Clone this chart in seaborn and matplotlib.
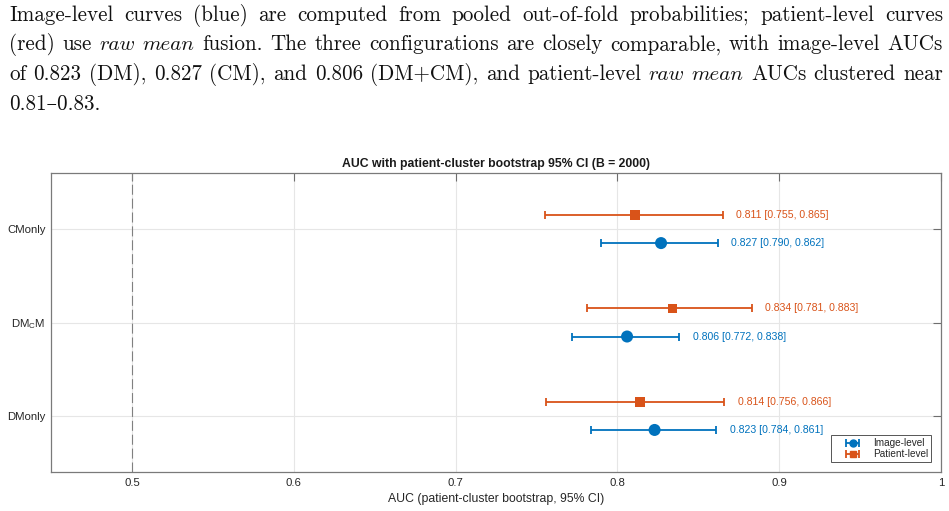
import numpy as np
import pandas as pd
import seaborn as sns
import matplotlib
matplotlib.use("Agg")
import matplotlib.pyplot as plt
from matplotlib.lines import Line2D
from matplotlib.legend_handler import HandlerErrorbar
from matplotlib.container import ErrorbarContainer

# ---------------- data ----------------
configs = ["DMonly", "DM$_{C}$M", "CMonly"]          # bottom -> top
img_auc = [0.823, 0.806, 0.827]
img_lo = [0.784, 0.772, 0.790]
img_hi = [0.861, 0.838, 0.862]
pat_auc = [0.814, 0.834, 0.811]
pat_lo = [0.756, 0.781, 0.755]
pat_hi = [0.866, 0.883, 0.865]
levels = ["Image-level", "Patient-level"]
xticks = [0.5, 0.6, 0.7, 0.8, 0.9, 1.0]
xtick_labels = ["0.5", "0.6", "0.7", "0.8", "0.9", "1"]

para_lines = [
    [("Image-level curves (blue) are computed from pooled out-of-fold probabilities; patient-level curves", False)],
    [("(red) use", False), ("raw mean", True),
     ("fusion. The three configurations are closely comparable, with image-level AUCs", False)],
    [("of 0.823 (DM), 0.827 (CM), and 0.806 (DM+CM), and patient-level", False), ("raw mean", True),
     ("AUCs clustered near", False)],
    [("0.81\u20130.83.", False)],
]

# ---------------- style ----------------
sns.set_theme(style="white")
plt.rcParams["font.family"] = ["Liberation Sans", "DejaVu Sans"]
plt.rcParams["mathtext.default"] = "regular"

BLUE = "#0072BD"
RED = "#D95319"
colors = {"Image-level": BLUE, "Patient-level": RED}
W, H = 949, 511

fig = plt.figure(figsize=(W / 100, H / 100), dpi=100)
ax = fig.add_axes([51 / W, 1 - 472 / H, 890 / W, 299 / H])

# build table
rows = []
for i, c in enumerate(configs):
    rows.append(dict(config=c, level="Image-level", auc=img_auc[i], lo=img_lo[i], hi=img_hi[i], y=i + 1 - 0.15))
    rows.append(dict(config=c, level="Patient-level", auc=pat_auc[i], lo=pat_lo[i], hi=pat_hi[i], y=i + 1 + 0.15))
df = pd.DataFrame(rows)

ax.set_xlim(0.45, 1.0)
ax.set_ylim(0.4, 3.6)
ax.set_xticks(xticks)
ax.set_xticklabels(xtick_labels)
ax.set_yticks([1, 2, 3])
ax.set_yticklabels(configs)
ax.grid(True, color="#e6e6e6", lw=0.8, zorder=0)
ax.set_axisbelow(True)
ax.axvline(0.5, color="#808080", lw=0.8, ls=(0, (9, 3.5)), zorder=1)

containers = {}
for lev in levels:
    d = df[df.level == lev]
    cont = ax.errorbar(d.auc, d.y, xerr=[d.auc - d.lo, d.hi - d.auc], fmt="none",
                       ecolor=colors[lev], elinewidth=1.3, capsize=3, capthick=1.3, zorder=2)
    containers[lev] = cont
    for _, r in d.iterrows():
        ax.text(r.hi + 0.0085, r.y, f"{r.auc:.3f} [{r.lo:.3f}, {r.hi:.3f}]",
                color=colors[lev], fontsize=7.6, va="center", ha="left")

sns.scatterplot(data=df, x="auc", y="y", hue="level", style="level", size="level",
                markers={"Image-level": "o", "Patient-level": "s"},
                sizes={"Image-level": 75, "Patient-level": 48},
                palette=colors, edgecolor="none", legend=False, ax=ax, zorder=3)

ax.set_xlabel("AUC (patient-cluster bootstrap, 95% CI)", fontsize=8.8, color="#262626", labelpad=4)
ax.set_ylabel("")
ax.set_title("AUC with patient-cluster bootstrap 95% CI (B = 2000)", fontsize=8.8,
             fontweight="bold", color="#1a1a1a", pad=4)
ax.tick_params(direction="in", length=6, width=0.8, color="#6e6e6e", top=True, right=True,
               labelsize=8.2, labelcolor="#262626", pad=4)
for s in ax.spines.values():
    s.set_color("#7a7a7a")
    s.set_linewidth(0.9)

handles = [
    (containers["Image-level"], Line2D([], [], marker="o", ls="none", color=BLUE, ms=5)),
    (containers["Patient-level"], Line2D([], [], marker="s", ls="none", color=RED, ms=4.2)),
]
leg = ax.legend(handles, levels, loc="lower right", fontsize=7.2, frameon=True, fancybox=False,
                edgecolor="#555555", framealpha=1, borderpad=0.3, handlelength=3.8,
                handletextpad=0.1, labelspacing=0.1, borderaxespad=0,
                bbox_to_anchor=(0.989, 0.033),
                handler_map={ErrorbarContainer: HandlerErrorbar(xerr_size=0.65)})
leg.get_frame().set_linewidth(0.7)

# ---------------- paragraph (justified) ----------------
FS = 15.2
roman = ["cmr10", "DejaVu Serif"]
italic = ["cmmi10", "DejaVu Serif"]
left, right = 9, 943
baselines = [21, 50.5, 80, 109.5]
r = fig.canvas.get_renderer()
for li, line in enumerate(para_lines):
    words = []
    for chunk, ital in line:
        for w in chunk.split(" "):
            words.append((w, ital))
    texts = []
    for w, ital in words:
        t = fig.text(left / W, 1 - baselines[li] / H, w, fontsize=FS,
                     family=italic if ital else roman, va="baseline", ha="left", color="#111111")
        texts.append(t)
    widths = [t.get_window_extent(r).width for t in texts]
    justify = li < len(para_lines) - 1 and len(texts) > 1
    gap = (right - left - sum(widths)) / (len(texts) - 1) if justify else 5
    x = left
    for t, wd in zip(texts, widths):
        t.set_x(x / W)
        x += wd + gap

fig.savefig("out.png", dpi=100)
